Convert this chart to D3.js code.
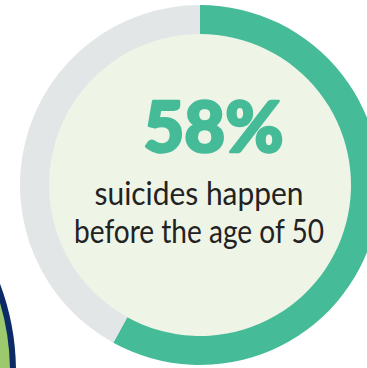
<!DOCTYPE html>
<html><head><meta charset="utf-8">
<script src="https://cdn.jsdelivr.net/npm/d3@7"></script>
<style>html,body{margin:0;padding:0;background:#fff;overflow:hidden}</style>
</head><body>
<svg id="chart" width="367" height="368"></svg>
<script>
const categories = ["Before age 50", "Age 50 and over"];
const values = [58, 42];
const headline = "58%";
const captionLines = ["suicides happen", "before the age of 50"];

const colors = {green: "#45BB97", grey: "#E3E6E6", inner: "#EEF4E6", text: "#222222", navy: "#0B2A66", leaf: "#9CC86E"};

const svg = d3.select("#chart");
const cx = 200, cy = 185, outerR = 180, innerR = 151;

// decorative neighbouring circle at bottom-left
svg.append("circle").attr("cx", -235).attr("cy", 372).attr("r", 248)
  .attr("fill", colors.leaf).attr("stroke", colors.navy).attr("stroke-width", 6);

const g = svg.append("g").attr("transform", `translate(${cx},${cy})`);
g.append("circle").attr("r", innerR + 1).attr("fill", colors.inner);

const pie = d3.pie().sort(null).value(d => d);
const arc = d3.arc().innerRadius(innerR).outerRadius(outerR);
g.selectAll("path.slice").data(pie(values)).join("path")
  .attr("class", "slice")
  .attr("d", arc)
  .attr("fill", (d, i) => i === 0 ? colors.green : colors.grey);

svg.append("text").text(headline)
  .attr("x", 213.5).attr("y", 152).attr("text-anchor", "middle")
  .attr("font-family", "Lato, 'Noto Sans', sans-serif").attr("font-weight", 900)
  .attr("font-size", 70).attr("fill", colors.green)
  .attr("stroke", colors.green).attr("stroke-width", 2.6).attr("stroke-linejoin", "round")
  .attr("textLength", 140).attr("lengthAdjust", "spacingAndGlyphs");

const widths = [209, 250];
const baselines = [205, 243];
captionLines.forEach((t, i) => {
  svg.append("text").text(t)
    .attr("x", 199).attr("y", baselines[i]).attr("text-anchor", "middle")
    .attr("font-family", "Lato, 'Noto Sans', sans-serif")
    .attr("font-size", 32).attr("fill", colors.text)
    .attr("textLength", widths[i]).attr("lengthAdjust", "spacingAndGlyphs");
});
</script>
</body></html>
